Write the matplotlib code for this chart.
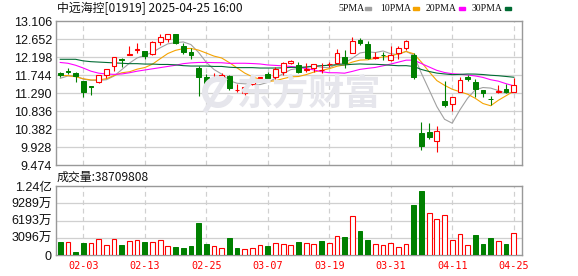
import matplotlib
matplotlib.use('Agg')
import matplotlib.pyplot as plt
from matplotlib.patches import Arc
import numpy as np

# ---------------- data ----------------
dates = ["01-24", "01-27", "01-28", "02-03", "02-04", "02-05", "02-06", "02-07", "02-10", "02-11",
         "02-12", "02-13", "02-14", "02-17", "02-18", "02-19", "02-20", "02-21", "02-24", "02-25",
         "02-26", "02-27", "02-28", "03-03", "03-04", "03-05", "03-06", "03-07", "03-10", "03-11",
         "03-12", "03-13", "03-14", "03-17", "03-18", "03-19", "03-20", "03-21", "03-24", "03-25",
         "03-26", "03-27", "03-28", "03-31", "04-01", "04-02", "04-03", "04-07", "04-08", "04-09",
         "04-10", "04-11", "04-14", "04-15", "04-16", "04-17", "04-22", "04-23", "04-24", "04-25"]

opens = [11.79, 11.85, 11.80, 11.59, 11.47, 11.56, 11.74, 11.96, 12.16, 12.25,
         12.38, 12.35, 12.27, 12.58, 12.66, 12.77, 12.48, 12.33, 11.93, 11.69,
         11.63, 11.70, 11.73, 11.36, 11.30, 11.52, 11.68, 11.77, 11.69, 11.83,
         12.04, 12.00, 11.88, 11.91, 11.86, 12.01, 12.04, 12.19, 12.31, 12.63,
         12.52, 12.17, 12.26, 12.12, 12.31, 12.42, 12.25, 10.27, 10.30, 10.09,
         11.09, 11.00, 11.32, 11.69, 11.58, 11.37, 11.14, 11.32, 11.38, 11.32]
highs = [11.81, 11.91, 11.83, 11.60, 11.47, 11.75, 11.89, 12.20, 12.18, 12.48,
         12.56, 12.36, 12.61, 12.77, 12.79, 12.78, 12.54, 12.42, 11.97, 11.77,
         11.80, 11.79, 11.75, 11.51, 11.46, 11.60, 11.69, 11.82, 11.95, 12.08,
         12.12, 12.06, 12.05, 12.02, 12.04, 12.06, 12.39, 12.38, 12.71, 12.67,
         12.59, 12.33, 12.32, 12.48, 12.48, 12.63, 12.29, 10.57, 10.53, 10.46,
         11.59, 11.20, 11.70, 11.74, 11.64, 11.37, 11.21, 11.49, 11.51, 11.68]
lows = [11.69, 11.77, 11.58, 11.20, 11.25, 11.55, 11.66, 11.85, 11.94, 12.25,
        12.29, 12.16, 12.26, 12.50, 12.58, 12.52, 12.27, 12.16, 11.21, 11.50,
        11.60, 11.60, 11.37, 11.32, 11.24, 11.48, 11.56, 11.62, 11.64, 11.74,
        12.01, 11.79, 11.83, 11.81, 11.80, 11.95, 12.03, 11.91, 12.29, 12.50,
        12.16, 12.16, 12.12, 12.10, 12.16, 12.38, 11.64, 9.84, 10.13, 9.79,
        10.93, 10.84, 11.31, 11.59, 11.18, 11.20, 10.99, 11.30, 11.29, 11.31]
closes = [11.74, 11.81, 11.72, 11.32, 11.45, 11.74, 11.89, 12.19, 12.12, 12.27,
          12.40, 12.22, 12.57, 12.69, 12.77, 12.54, 12.32, 12.24, 11.70, 11.52,
          11.64, 11.74, 11.41, 11.37, 11.45, 11.60, 11.69, 11.68, 11.89, 12.04,
          12.10, 11.83, 11.89, 12.01, 11.87, 12.03, 12.29, 12.04, 12.60, 12.54,
          12.18, 12.19, 12.24, 12.25, 12.43, 12.59, 11.70, 9.95, 10.17, 10.33,
          10.99, 11.20, 11.63, 11.64, 11.38, 11.28, 11.13, 11.33, 11.31, 11.48]
close_before_first = 11.80  # previous close of the day before the first bar

volume_wan = [2390, 2390, 600, 2150, 2150, 2810, 1800, 2810, 1800, 2570,
              2690, 2390, 2390, 2630, 1620, 1500, 1320, 1620, 5800, 1980,
              1560, 1200, 3050, 1200, 1020, 1200, 1740, 1620, 2090, 1920,
              1740, 2330, 2090, 1980, 2510, 2090, 3350, 3230, 6940, 4310,
              2690, 1980, 1740, 2150, 1380, 1980, 9040, 11490, 7540, 6460,
              7180, 2690, 3770, 1740, 3590, 1980, 3050, 2510, 1980, 3871]

ma5 = [11.66, 11.72, 11.72, 11.64, 11.608, 11.608, 11.624, 11.718, 11.878, 12.042,
       12.174, 12.240, 12.316, 12.430, 12.530, 12.558, 12.578, 12.512, 12.314, 12.064,
       11.884, 11.768, 11.602, 11.536, 11.522, 11.514, 11.502, 11.558, 11.662, 11.780,
       11.880, 11.910, 11.950, 11.974, 11.940, 11.926, 12.018, 12.048, 12.166, 12.300,
       12.330, 12.310, 12.350, 12.280, 12.258, 12.340, 12.242, 11.784, 11.368, 10.948,
       10.628, 10.528, 10.864, 11.158, 11.370, 11.428, 11.414, 11.352, 11.286, 11.306]
ma10 = [11.73, 11.73, 11.70, 11.65, 11.62, 11.62, 11.65, 11.73, 11.80, 11.825,
        11.891, 11.932, 12.017, 12.154, 12.286, 12.366, 12.409, 12.414, 12.372, 12.297,
        12.221, 12.173, 12.057, 11.925, 11.793, 11.699, 11.635, 11.580, 11.599, 11.651,
        11.697, 11.706, 11.754, 11.818, 11.860, 11.903, 11.964, 11.999, 12.070, 12.120,
        12.128, 12.164, 12.199, 12.223, 12.279, 12.338, 12.279, 12.067, 11.824, 11.603,
        11.484, 11.385, 11.321, 11.260, 11.156, 11.025, 10.968, 11.106, 11.220, 11.337]
ma20 = [12.06, 12.04, 11.99, 11.92, 11.84, 11.79, 11.77, 11.76, 11.77, 11.80,
        11.84, 11.87, 11.90, 11.93, 11.96, 11.99, 12.03, 12.05, 12.06, 12.061,
        12.056, 12.053, 12.037, 12.040, 12.040, 12.033, 12.022, 11.997, 11.986, 11.974,
        11.959, 11.940, 11.906, 11.872, 11.827, 11.801, 11.800, 11.790, 11.835, 11.886,
        11.912, 11.935, 11.976, 12.020, 12.069, 12.118, 12.119, 12.032, 11.946, 11.861,
        11.807, 11.776, 11.763, 11.745, 11.720, 11.683, 11.625, 11.589, 11.525, 11.472]
ma30 = [12.14, 12.14, 12.14, 12.10, 12.08, 12.07, 12.06, 12.05, 12.04, 12.03,
        12.03, 12.02, 12.02, 12.01, 12.01, 12.00, 11.98, 11.97, 11.97, 11.97,
        11.96, 11.96, 11.94, 11.93, 11.93, 11.93, 11.92, 11.92, 11.92, 11.924,
        11.936, 11.937, 11.943, 11.966, 11.980, 11.989, 12.003, 11.998, 12.014, 12.023,
        12.015, 12.014, 12.004, 11.990, 11.978, 11.980, 11.959, 11.883, 11.832, 11.792,
        11.771, 11.753, 11.760, 11.769, 11.767, 11.756, 11.738, 11.726, 11.707, 11.688]

price_ticks = [9.474, 9.928, 10.382, 10.836, 11.290, 11.744, 12.198, 12.652, 13.106]
vol_ticks = [0, 3096, 6193, 9289, 12386]
vol_tick_labels = ["0", "3096万", "6193万", "9289万", "1.24亿"]
label_dates = ["02-03", "02-13", "02-25", "03-07", "03-19", "03-31", "04-11", "04-25"]
title_text = "中远海控[01919] 2025-04-25 16:00"
volume_text = "成交量:38709808"
ma_names = ["5PMA", "10PMA", "20PMA", "30PMA"]
watermark = "东方财富"

# ---------------- style ----------------
RED = "#ff0000"
GREEN = "#008000"
MA_COLORS = ["#a0a0a0", "#f5a300", "#ff00ff", "#006b33"]
GRID = "#d0d0d0"
FRAME = "#999999"
WM = "#e6e6ec"
CJK = ["Liberation Sans", "Noto Sans CJK SC"]
PX = 0.72  # one pixel in points at 100 dpi

W, H = 578, 276
fig = plt.figure(figsize=(W / 100, H / 100), dpi=100)


def rect(l, t, r, b):
    return [l / W, 1 - b / H, (r - l) / W, (b - t) / H]


ax = fig.add_axes(rect(56, 21, 522, 165))
axv = fig.add_axes(rect(56, 186, 522, 255), sharex=ax)

n = len(closes)
x = np.arange(n)
o = np.array(opens)
c = np.array(closes)
h = np.array(highs)
lo = np.array(lows)
up = c >= o

xmin, xmax = -0.55, 60.08
ax.set_xlim(xmin, xmax)
ax.set_ylim(price_ticks[0], price_ticks[-1])
axv.set_ylim(0, vol_ticks[-1])

label_pos = [dates.index(d) for d in label_dates]

# grids
for a, yt in ((ax, price_ticks), (axv, vol_ticks)):
    for yv in yt[1:-1]:
        a.axhline(yv, color=GRID, lw=1.3 * PX, zorder=0)
    for xp in label_pos:
        a.axvline(xp, color=GRID, lw=1.2 * PX, ls=(0, (4, 3)), zorder=0)
    for s in a.spines.values():
        s.set_color(FRAME)
        s.set_linewidth(1.4 * PX)


def ftext(px, py, s, **kw):
    fig.text(px / W, 1 - py / H, s, **kw)


# watermark (text + simple swirl logo)
ftext(309, 94, watermark, fontsize=26, fontweight="bold", color=WM, ha="center",
      va="center", family=["Noto Sans CJK SC"], zorder=0.5)
fig.patches.append(Arc((218 / W, 1 - 92 / H), 26 / W, 26 / H, theta1=70, theta2=330,
                       lw=6 * PX, color=WM, transform=fig.transFigure, figure=fig, zorder=0.5))
fig.lines.append(plt.Line2D([206 / W, 224 / W], [1 - 110 / H, 1 - 80 / H], lw=5 * PX,
                            color=WM, transform=fig.transFigure, figure=fig, zorder=0.5))

# moving averages
for vals, col in zip((ma5, ma10, ma20, ma30), MA_COLORS):
    ax.plot(x, vals, color=col, lw=1.1 * PX, zorder=2)

# candles
bw = 0.62
colors = np.where(up, RED, GREEN)
ax.vlines(x, lo, np.minimum(o, c), colors=colors, lw=1.1 * PX, zorder=3)
ax.vlines(x, np.maximum(o, c), h, colors=colors, lw=1.1 * PX, zorder=3)
ax.bar(x[up], (c - o)[up], bottom=o[up], width=bw, facecolor="white", edgecolor=RED,
       lw=1.1 * PX, zorder=4)
ax.bar(x[~up], (o - c)[~up], bottom=c[~up], width=bw, facecolor=GREEN, edgecolor=GREEN,
       lw=1.0 * PX, zorder=4)

# volume (colour by change vs previous close)
prev = np.concatenate(([close_before_first], c[:-1]))
vup = c >= prev
v = np.array(volume_wan, dtype=float)
axv.bar(x[vup], v[vup], width=bw, facecolor="white", edgecolor=RED, lw=1.1 * PX, zorder=3)
axv.bar(x[~vup], v[~vup], width=bw, facecolor=GREEN, edgecolor=GREEN, lw=1.0 * PX, zorder=3)

# ticks
ax.set_yticks(price_ticks)
ax.set_yticklabels([f"{t:.3f}" for t in price_ticks], fontsize=9, color="#111111",
                   family="Liberation Sans")
ax.tick_params(axis="y", length=0, pad=3)
ax.tick_params(axis="x", length=0, labelbottom=False)
axv.set_yticks(vol_ticks)
axv.set_yticklabels(vol_tick_labels, fontsize=9, color="#111111", family=CJK)
axv.tick_params(axis="y", length=0, pad=3)
axv.set_xticks(label_pos)
axv.set_xticklabels(label_dates, fontsize=7.3, color=RED, family="DejaVu Sans Mono")
axv.tick_params(axis="x", length=0, pad=4)

ftext(57, 8.5, title_text, fontsize=8.6, color="#111111", va="center", ha="left",
      family=["Noto Sans CJK SC"])
ftext(57, 177.5, volume_text, fontsize=8.6, color="#111111", va="center", ha="left",
      family=["Noto Sans CJK SC"])

legend_x = [338, 380, 426, 472]
square_x = [365, 413, 459, 505]
for name, lx, sx, col in zip(ma_names, legend_x, square_x, MA_COLORS):
    ftext(lx, 8.5, name, fontsize=7.0, color="#111111", va="center", ha="left",
          family="Liberation Serif")
    fig.patches.append(plt.Rectangle((sx / W, 1 - 10 / H), 6 / W, 3 / H, color=col,
                                     transform=fig.transFigure, figure=fig))

fig.savefig("out.png", dpi=100)
